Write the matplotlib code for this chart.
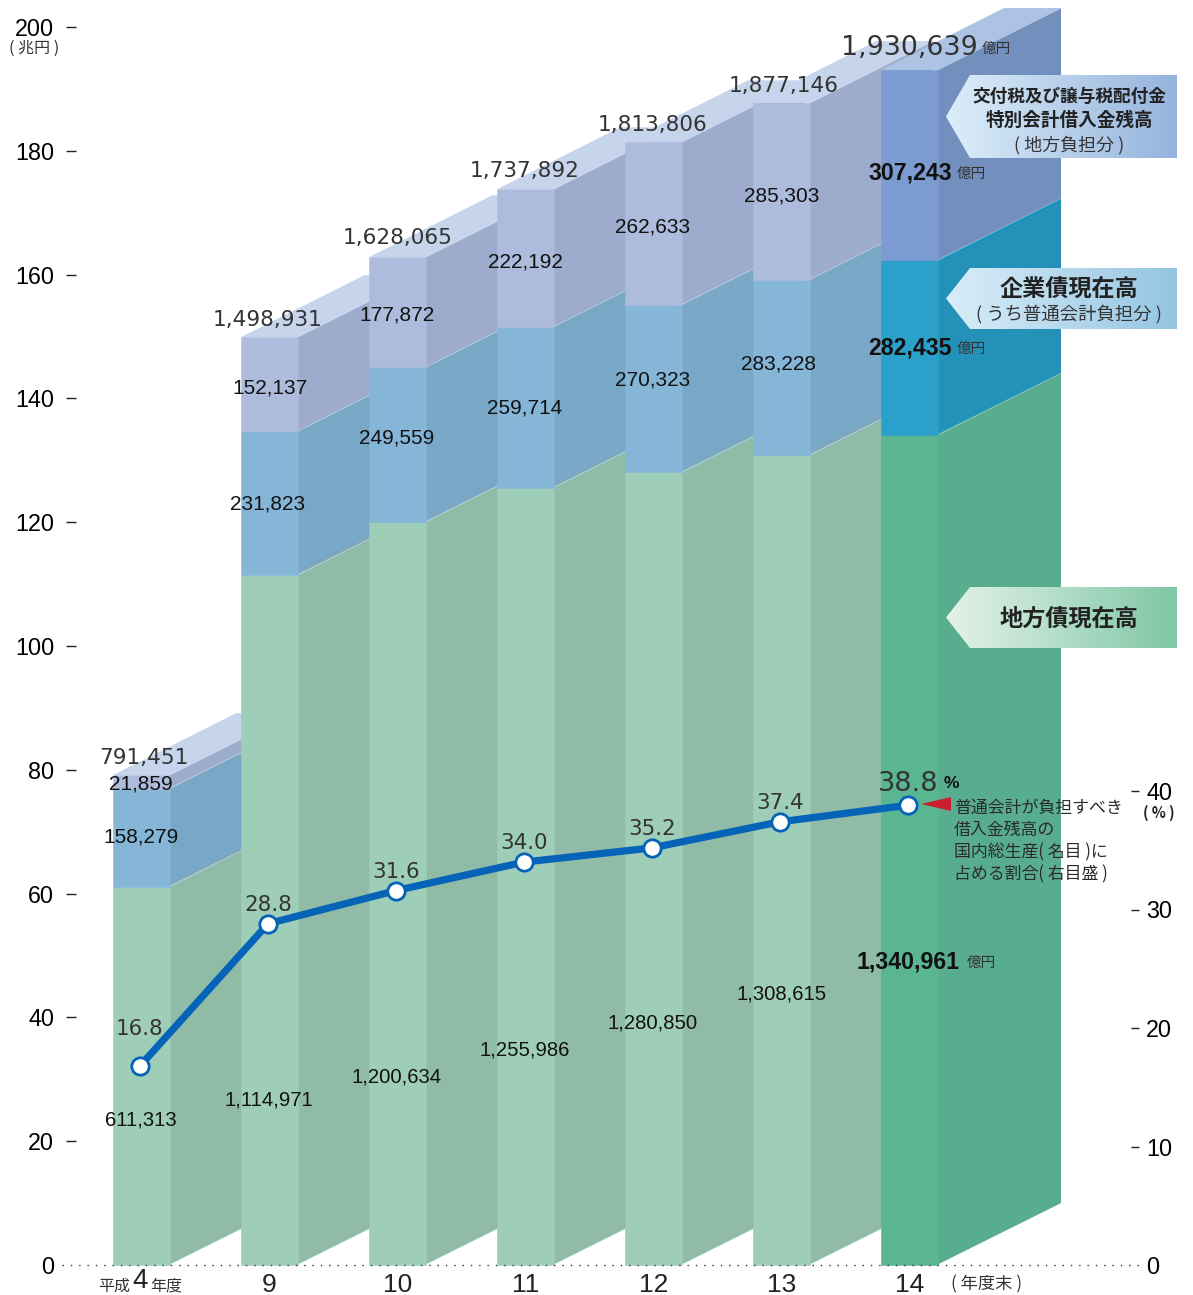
#!/usr/bin/env python3
"""Local government debt outstanding: stacked pseudo-3D bars plus debt/GDP line."""
import numpy as np
import matplotlib
matplotlib.use('Agg')
import matplotlib.pyplot as plt
from matplotlib.colors import LinearSegmentedColormap
from matplotlib.patches import Polygon

W, H = 1193, 1295
ARIAL = 'Liberation Sans'
JP = ['Noto Sans CJK JP', 'DejaVu Sans']

years = ['', '9', '10', '11', '12', '13', '14']
local_bonds = [611313, 1114971, 1200634, 1255986, 1280850, 1308615, 1340961]
corp_bonds = [158279, 231823, 249559, 259714, 270323, 283228, 282435]
special_acct = [21859, 152137, 177872, 222192, 262633, 285303, 307243]
totals = [791451, 1498931, 1628065, 1737892, 1813806, 1877146, 1930639]
gdp_ratio = [16.8, 28.8, 31.6, 34.0, 35.2, 37.4, 38.8]

# label placement, figure pixels
local_lab_y = [1119, 1099, 1076, 1049, 1022, 993]
corp_lab_y = [836, 503, 437, 407, 379, 363]
spec_lab_y = [783, 387, 314, 261, 226, 195]
total_lab_y = [756, 318, 236, 169, 123, 84]
local_lab_x = [141, 269, 397, 525, 653, 782]
corp_lab_x = [141, 268, 397, 525, 653, 779]
spec_lab_x = [141, 270, 397, 525, 653, 782]
total_lab_x = [144, 268, 398, 525, 653, 784]

# front, side
C_PALE = {'spec': ('#adbbdd', '#9dabcc'), 'corp': ('#85b6d8', '#79a8c6'),
          'local': ('#9fceb8', '#90bba6'), 'top': '#c7d5ec'}
C_LAST = {'spec': ('#7c9bd0', '#728fbe'), 'corp': ('#2ba0cb', '#2492b8'),
          'local': ('#59b592', '#57ad8d'), 'top': '#adc3e3'}

STEP = 128.0          # px between bars
BAR_W = 57 / STEP
DEPTH_X = 123 / STEP
DEPTH_Y = 10.0        # 兆円
LINE_SHIFT = -1.5 / STEP  # the line sits a little left of the bar centres

fig = plt.figure(figsize=(W / 100, H / 100), dpi=100, facecolor='white')
ax = fig.add_axes([76 / W, 1 - 1265 / H, (1131 - 76) / W, (1265 - 27) / H])
ax.set_xlim((76 - 141.5) / STEP, (1131 - 141.5) / STEP)
ax.set_ylim(0, 200)

for i in range(len(years)):
    cols = C_LAST if i == len(years) - 1 else C_PALE
    l, r = i - BAR_W / 2, i + BAR_W / 2
    y0 = 0
    for key, vals in (('local', local_bonds), ('corp', corp_bonds), ('spec', special_acct)):
        y1 = y0 + vals[i] / 1e4
        # side first, tucked under the front so no seam shows
        ax.fill([r - 0.01, r + DEPTH_X, r + DEPTH_X, r - 0.01], [y0, y0 + DEPTH_Y, y1 + DEPTH_Y, y1],
                color=cols[key][1], lw=0, clip_on=False, zorder=2 + i)
        ax.plot([r, r + DEPTH_X], [y1, y1 + DEPTH_Y], color='white', lw=0.5, alpha=0.45,
                clip_on=False, zorder=2 + i)
        y0 = y1
    y0 = 0
    for key, vals in (('local', local_bonds), ('corp', corp_bonds), ('spec', special_acct)):
        y1 = y0 + vals[i] / 1e4
        ax.fill([l, r, r, l], [y0, y0, y1, y1], color=cols[key][0], lw=0.4, clip_on=False, zorder=2 + i)
        y0 = y1
    ax.fill([l, r, r + DEPTH_X, l + DEPTH_X], [y0, y0, y0 + DEPTH_Y, y0 + DEPTH_Y],
            color=cols['top'], lw=0, clip_on=False, zorder=2 + i)

ax.set_yticks(range(0, 201, 20))
ax.set_xticks(range(len(years)))
ax.set_xticklabels(years, fontsize=19, family=ARIAL, color='#222222')
ax.tick_params(axis='x', length=0, pad=6)
ax.tick_params(axis='y', length=7.2, width=1, pad=8.6, labelsize=16.8, color='#222222')
for t in ax.get_yticklabels():
    t.set_family(ARIAL)
for sp in ax.spines.values():
    sp.set_visible(False)

ax2 = ax.twinx()
ax2.set_ylim(0, 1238 / 11.85)
ax2.set_yticks([0, 10, 20, 30, 40])
ax2.tick_params(axis='y', length=6, width=1, pad=5, labelsize=16.8, color='#222222')
for t in ax2.get_yticklabels():
    t.set_family(ARIAL)
# twinx resets the left ticks, so hide the zero ticks only now
ax.yaxis.get_major_ticks()[0].tick1line.set_visible(False)
ax2.yaxis.get_major_ticks()[0].tick2line.set_visible(False)
for sp in ax2.spines.values():
    sp.set_visible(False)
line_x = [i + LINE_SHIFT for i in range(len(years))]
ax2.plot(line_x, gdp_ratio, color='#0563b8', lw=5.2, zorder=20,
         solid_capstyle='round', clip_on=False)
ax2.plot(line_x, gdp_ratio, ls='none', marker='o', ms=12.5, mfc='white',
         mec='#0563b8', mew=2, zorder=21, clip_on=False)
for i, v in enumerate(gdp_ratio):
    if i == len(years) - 1:
        dy, size = 21, 19.6
    else:
        dy, size = (37 if i == 0 else 19), 15.4
    ax2.annotate(f'{v:.1f}', (line_x[i], v), xytext=(0, dy * 0.72), textcoords='offset points',
                 ha='center', va='center', fontsize=size, family='DejaVu Sans',
                 color='#333333', zorder=22)

# overlay in figure pixels for labels and call-outs
ov = fig.add_axes([0, 0, 1, 1], zorder=10)
ov.set_xlim(0, W); ov.set_ylim(H, 0)
ov.axis('off')


def txt(x, y, s, size=15, family=ARIAL, ha='center', color='#111111', **kw):
    ov.text(x, y, s, fontsize=size, family=family, ha=ha, va='center', color=color, **kw)


ov.plot([62, 1140], [1265, 1265], color='#333333', lw=1, ls=(0, (1, 5)))

for i in range(6):
    txt(local_lab_x[i], local_lab_y[i] + 1, f'{local_bonds[i]:,}', 14.6)
    txt(corp_lab_x[i], corp_lab_y[i] + 1, f'{corp_bonds[i]:,}')
    txt(spec_lab_x[i], spec_lab_y[i] + 1, f'{special_acct[i]:,}')
    txt(total_lab_x[i], total_lab_y[i] + 2, f'{totals[i]:,}', 15.6, 'DejaVu Sans', color='#333333')

txt(978, 48, f'{totals[6]:,}', 19.4, 'DejaVu Sans', ha='right', color='#333333')
txt(982, 49, '億円', 10.5, JP, ha='left', color='#333333')
txt(952, 173, f'{special_acct[6]:,}', 16.7, ha='right', fontweight='bold')
txt(957, 174, '億円', 10.5, JP, ha='left', color='#333333')
txt(952, 348, f'{corp_bonds[6]:,}', 16.7, ha='right', fontweight='bold')
txt(957, 349, '億円', 10.5, JP, ha='left', color='#333333')
txt(960, 962, f'{local_bonds[6]:,}', 16.7, ha='right', fontweight='bold')
txt(967, 963, '億円', 10.5, JP, ha='left', color='#333333')
txt(951, 783, '%', 12.5, fontweight='bold')

# call-outs with a horizontal gradient
callouts = [(75, 158, '#dceefa', '#95b3dc'), (268, 329, '#d9edf8', '#95c5e2'),
            (587, 648, '#e4f2ea', '#7fc7a6')]
for top, bot, c0, c1 in callouts:
    cm = LinearSegmentedColormap.from_list('g', [c0, c1])
    im = ov.imshow(np.linspace(0, 1, 256)[None, :], cmap=cm, aspect='auto',
                   extent=(946, 1177, bot, top), zorder=3)
    shape = Polygon([(946, (top + bot) / 2), (970, top), (1177, top), (1177, bot), (970, bot)],
                    transform=ov.transData, fc='none', ec='none')
    ov.add_patch(shape)
    im.set_clip_path(shape)
ov.set_xlim(0, W); ov.set_ylim(H, 0)

txt(1069, 97, '交付税及び譲与税配付金', 12.7, JP, color='#222222', fontweight='bold', zorder=5)
txt(1069, 120, '特別会計借入金残高', 13.4, JP, color='#222222', fontweight='bold', zorder=5)
txt(1069, 145, '( 地方負担分 )', 13, JP, color='#333333', zorder=5)
txt(1069, 289, '企業債現在高', 16.7, JP, color='#222222', fontweight='bold', zorder=5)
txt(1069, 314, '( うち普通会計負担分 )', 13.2, JP, color='#333333', zorder=5)
txt(1069, 619, '地方債現在高', 16.7, JP, color='#222222', fontweight='bold', zorder=5)

ov.fill([921, 951, 951], [804, 797, 811], color='#c8202f', lw=0)
for y, s in zip([808, 830, 852, 874],
                ['普通会計が負担すべき', '借入金残高の', '国内総生産( 名目 )に', '占める割合( 右目盛 )']):
    txt(954, y, s, 12.2, JP, ha='left', color='#2a2a2a')

txt(1159, 813, '( % )', 10.5, JP, fontweight='bold', color='#222222')
txt(34, 48, '( 兆円 )', 11.5, JP, color='#333333')
txt(114, 1286, '平成', 11.5, JP, color='#333333')
txt(140, 1281, '4', 20, color='#222222')
txt(166, 1286, '年度', 11.5, JP, color='#333333')
txt(987, 1284, '( 年度末 )', 12.4, JP, color='#333333')

fig.savefig('out.png', dpi=100, facecolor='white')
